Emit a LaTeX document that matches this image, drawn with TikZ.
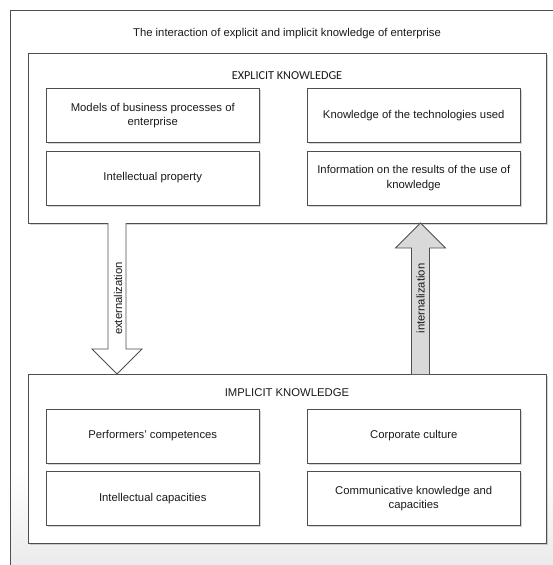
\documentclass[tikz,border=0pt]{standalone}
\usepackage{fontspec}
\setmainfont{Liberation Sans}
\newfontfamily\headfont{Carlito}
\usetikzlibrary{shadows,calc}

\definecolor{linegray}{HTML}{4F4F4F}
\definecolor{arrowfill}{HTML}{D9D9D9}
\definecolor{textgray}{HTML}{1A1A1A}
\definecolor{fadegray}{HTML}{EBEBEB}

\begin{document}
\begin{tikzpicture}[x=1pt,y=-1pt,
  font=\fontsize{11.3}{14.5}\selectfont, text=textgray,
  softshadow/.style={drop shadow={shadow xshift=1.6pt, shadow yshift=-1.6pt, fill=black, opacity=0.16}},
  groupbox/.style={draw=linegray, line width=0.9pt, fill=white, softshadow,
    minimum width=518pt, inner sep=0pt, outer sep=0pt, anchor=north west},
  itembox/.style={draw=linegray, line width=0.8pt, fill=white, softshadow,
    minimum width=213.5pt, minimum height=54pt, inner sep=0pt, outer sep=0pt,
    align=center, anchor=north west},
  blockarrow/.style={draw=linegray, line width=0.8pt, line join=miter},
  arrowlabel/.style={rotate=90, inner sep=0pt},
]
% canvas and clipping
\useasboundingbox (0,0) rectangle (553,565);
\clip (0,0) rectangle (553,565);
\fill[white] (0,0) rectangle (553,565);

% outer frame with a soft fade towards the bottom
\shade[top color=white, bottom color=fadegray] (10.7,470) rectangle (600,565);
\draw[linegray, line width=0.8pt] (10.7,600) -- (10.7,10.7) -- (600,10.7);

\node (title) at (287,33.5) {The interaction of explicit and implicit knowledge of enterprise};

% explicit knowledge group
\node[groupbox, minimum height=170pt] (exp) at (28,53) {};
\node[font=\headfont\fontsize{12.2}{14}\selectfont] (explabel) at (287,76) {EXPLICIT KNOWLEDGE};
\node[itembox] (models) at (46,88.5) {Models of business processes of\\enterprise};
\node[itembox] (tech) at (307,88.5) {Knowledge of the technologies used};
\node[itembox] (ip) at (46,151) {Intellectual property};
\node[itembox] (info) at (307,151) {Information on the results of the use of\\knowledge};

% implicit knowledge group
\node[groupbox, minimum height=169pt] (imp) at (28,374) {};
\node (implabel) at (287,392.5) {IMPLICIT KNOWLEDGE};
\node[itembox] (perf) at (46,409) {Performers' competences};
\node[itembox] (culture) at (307,409) {Corporate culture};
\node[itembox] (intcap) at (46,471.5) {Intellectual capacities};
\node[itembox] (comm) at (307,471.5) {Communicative knowledge and\\capacities};

% block arrows between the two groups
\coordinate (xe) at (117,0);
\coordinate (xi) at (420.5,0);

\draw[blockarrow, fill=white]
  ($(exp.south -| xe)+(-9,0)$) -- ($(imp.north -| xe)+(-9,-25)$)
  -- ($(imp.north -| xe)+(-25,-25)$) -- (imp.north -| xe)
  -- ($(imp.north -| xe)+(25,-25)$) -- ($(imp.north -| xe)+(9,-25)$)
  -- ($(exp.south -| xe)+(9,0)$);
\node[arrowlabel] (extlabel) at ($(exp.south -| xe)!0.5!(imp.north -| xe)+(1,0)$) {externalization};

\draw[blockarrow, fill=arrowfill]
  ($(imp.north -| xi)+(-9,0)$) -- ($(exp.south -| xi)+(-9,25)$)
  -- ($(exp.south -| xi)+(-25,25)$) -- (exp.south -| xi)
  -- ($(exp.south -| xi)+(25,25)$) -- ($(exp.south -| xi)+(9,25)$)
  -- ($(imp.north -| xi)+(9,0)$);
\node[arrowlabel] (intlabel) at ($(exp.south -| xi)!0.5!(imp.north -| xi)$) {internalization};
\end{tikzpicture}
\end{document}
